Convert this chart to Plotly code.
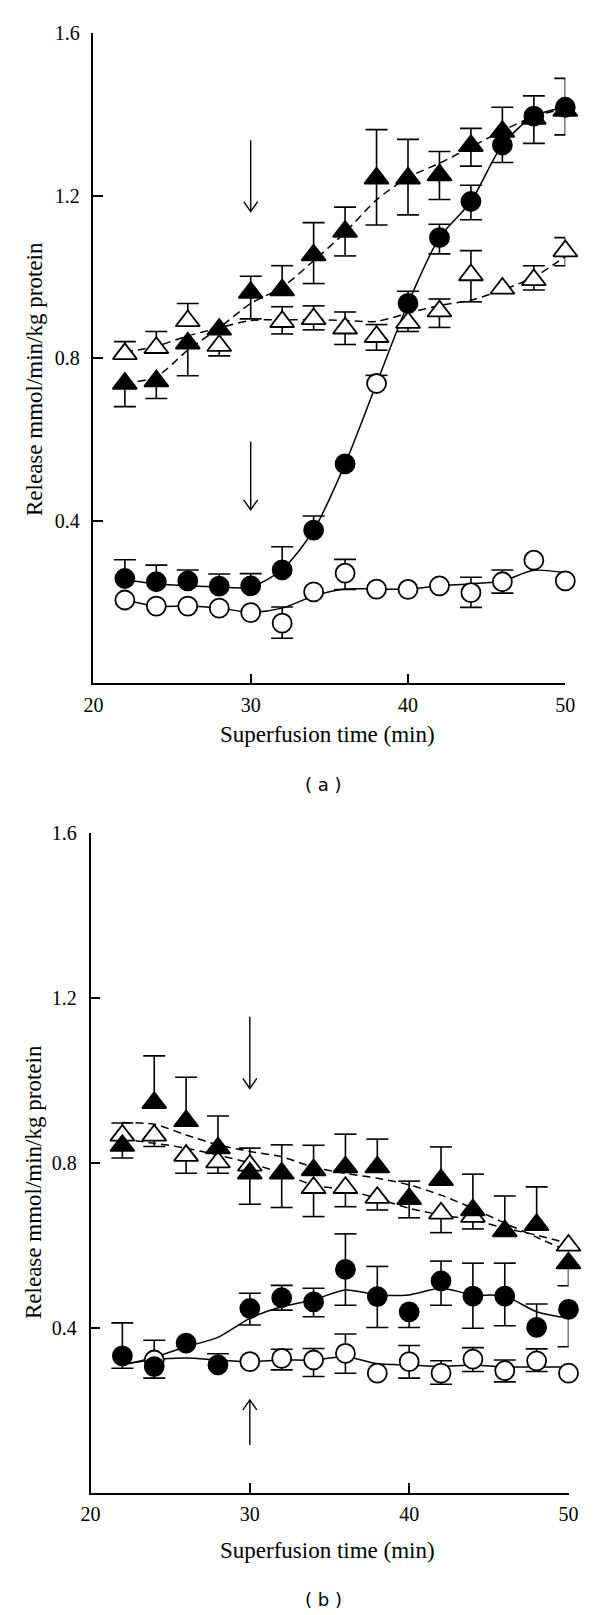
import plotly.graph_objects as go

# ---------------- data ----------------
T = [22, 24, 26, 28, 30, 32, 34, 36, 38, 40, 42, 44, 46, 48, 50]

# Panel (a)
a_fc = [0.258, 0.250, 0.252, 0.239, 0.240, 0.279, 0.377, 0.540, 0.738, 0.935, 1.097, 1.186, 1.325, 1.396, 1.418]
a_fc_up = [0.046, 0.041, 0.027, 0.030, 0.030, 0.057, 0.035, 0, 0.02, 0.03, 0.033, 0.04, 0, 0.05, 0.071]
a_fc_dn = [0, 0, 0, 0, 0, 0, 0, 0, 0, 0, 0.04, 0.045, 0.043, 0.067, 0.068]
a_fc_fill = ["black"] * 8 + ["white"] + ["black"] * 6
a_fc_curve = [0.255, 0.245, 0.240, 0.237, 0.237, 0.280, 0.377, 0.540, 0.738, 0.935, 1.097, 1.186, 1.325, 1.396, 1.418]

a_oc = [0.205, 0.190, 0.190, 0.185, 0.174, 0.148, 0.225, 0.271, 0.232, 0.231, 0.240, 0.223, 0.250, 0.303, 0.252]
a_oc_up = [0, 0, 0, 0, 0, 0.04, 0, 0.034, 0, 0, 0, 0.038, 0.029, 0, 0]
a_oc_dn = [0, 0, 0, 0, 0, 0.037, 0, 0.04, 0, 0, 0, 0.036, 0.028, 0, 0]
a_oc_curve = [0.205, 0.190, 0.190, 0.185, 0.175, 0.185, 0.215, 0.232, 0.232, 0.232, 0.240, 0.245, 0.252, 0.278, 0.272]

a_ft = [0.738, 0.744, 0.837, 0.871, 0.962, 0.968, 1.054, 1.112, 1.243, 1.243, 1.251, 1.323, 1.358, 1.390, 1.410]
a_ft_up = [0, 0, 0, 0, 0.04, 0.06, 0.08, 0.06, 0.12, 0.096, 0.058, 0.043, 0.06, 0, 0]
a_ft_dn = [0.057, 0.043, 0.08, 0, 0.065, 0, 0.07, 0.06, 0.115, 0.09, 0.06, 0.05, 0, 0, 0]
a_ft_curve = [0.738, 0.755, 0.820, 0.875, 0.935, 0.975, 1.040, 1.110, 1.190, 1.245, 1.280, 1.320, 1.360, 1.395, 1.415]

a_ot = [0.811, 0.826, 0.892, 0.831, None, 0.890, 0.897, 0.874, 0.853, 0.888, 0.916, 1.005, 0.972, 0.993, 1.064]
a_ot_up = [0.03, 0.04, 0.043, 0, 0, 0.037, 0.032, 0.04, 0.03, 0, 0.03, 0.06, 0, 0.035, 0.033]
a_ot_dn = [0, 0, 0, 0.025, 0, 0.03, 0.027, 0.04, 0.033, 0.022, 0.04, 0.066, 0, 0.025, 0.036]
a_ot_curve = [0.815, 0.830, 0.855, 0.875, 0.893, 0.895, 0.895, 0.893, 0.891, 0.911, 0.930, 0.943, 0.968, 1.000, 1.050]

# arrows (a): (time, tail, head)
a_arrows = [(30, 1.337, 1.161), (30, 0.595, 0.427)]

# Panel (b)
b_fc = [0.332, 0.306, 0.363, 0.310, 0.447, 0.473, 0.463, 0.542, 0.476, 0.439, 0.514, 0.477, 0.477, 0.401, 0.445]
b_fc_up = [0.08, 0, 0, 0.027, 0.037, 0.03, 0.033, 0.086, 0.073, 0, 0.048, 0.08, 0.08, 0.057, 0]
b_fc_dn = [0.03, 0.028, 0, 0, 0.04, 0.03, 0.036, 0.087, 0.075, 0.038, 0.059, 0.078, 0.072, 0, 0.091]
b_fc_fill = ["black"] * 15
b_fc_curve = [0.310, 0.329, 0.354, 0.377, 0.423, 0.451, 0.468, 0.492, 0.480, 0.480, 0.496, 0.480, 0.477, 0.439, 0.423]

b_oc = [None, 0.322, None, None, 0.318, 0.326, 0.322, 0.338, 0.290, 0.318, 0.290, 0.324, 0.296, 0.320, 0.290]
b_oc_up = [0, 0.048, 0, 0, 0, 0.022, 0.028, 0.047, 0, 0.039, 0.03, 0.028, 0.026, 0.029, 0]
b_oc_dn = [0, 0, 0, 0, 0, 0.028, 0.04, 0.048, 0, 0.04, 0.027, 0.03, 0.027, 0.026, 0]
b_oc_curve = [0.310, 0.323, 0.327, 0.322, 0.318, 0.322, 0.322, 0.330, 0.313, 0.310, 0.306, 0.310, 0.305, 0.305, 0.305]

b_ft = [0.842, 0.946, 0.902, 0.836, 0.775, 0.775, 0.783, 0.790, 0.790, 0.713, 0.759, 0.686, 0.635, 0.650, 0.557]
b_ft_up = [0, 0.114, 0.106, 0.078, 0, 0.069, 0.06, 0.08, 0.068, 0.043, 0.08, 0.087, 0.085, 0.092, 0]
b_ft_dn = [0.03, 0, 0, 0, 0.075, 0.083, 0, 0, 0, 0.046, 0, 0, 0, 0, 0.055]
b_ft_curve = [0.898, 0.894, 0.868, 0.844, 0.828, 0.815, 0.790, 0.775, 0.763, 0.747, 0.722, 0.690, 0.654, 0.620, 0.585]

b_ot = [0.867, 0.867, 0.818, 0.802, 0.794, None, 0.740, 0.740, 0.716, None, 0.678, 0.670, None, None, 0.600]
b_ot_up = [0.03, 0, 0, 0, 0.042, 0, 0, 0, 0, 0, 0, 0, 0, 0, 0]
b_ot_dn = [0, 0.027, 0.043, 0.027, 0, 0, 0.07, 0.046, 0.03, 0, 0.047, 0.03, 0, 0, 0]
b_ot_curve = [0.858, 0.848, 0.836, 0.819, 0.800, 0.775, 0.746, 0.735, 0.714, 0.690, 0.674, 0.662, 0.642, 0.625, 0.605]

b_arrows = [(30, 1.155, 0.981), (30, 0.116, 0.225)]

X_RANGE = [20, 50]
Y_RANGE = [0, 1.6]
X_TICKS = [20, 30, 40, 50]
Y_TICKS = [0.4, 0.8, 1.2, 1.6]
Y_TITLE = "Release mmol/min/kg protein"
X_TITLE = "Superfusion time (min)"

# ---------------- layout geometry (pixels) ----------------
W, H = 600, 1615
PANELS = {
    "a": dict(x0=93.4, x1=565.3, y0=33.3, y1=683.3, xa="x", ya="y",
              ytitle=(35, 379), xtitle=(327, 735), label=(323, 784)),
    "b": dict(x0=90.5, x1=568.5, y0=833.3, y1=1492.7, xa="x2", ya="y2",
              ytitle=(33, 1182), xtitle=(327, 1550), label=(323, 1599)),
}

SERIF = "Liberation Serif"
CAP_PX = 11      # half width of error-bar caps, px
HEAD_W = 7       # arrow head half width px
HEAD_L = 10      # arrow head length px

fig = go.Figure()


def err_lines(t, vals, up, dn, w):
    xs, ys = [], []
    for ti, v, u, d in zip(t, vals, up, dn):
        if v is None:
            continue
        for e in (u, -d):
            if e:
                xs += [ti, ti, None, ti - w, ti + w, None]
                ys += [v, v + e, None, v + e, v + e, None]
    return xs, ys


def add_panel(key, series, arrows):
    p = PANELS[key]
    xa, ya = p["xa"], p["ya"]
    px_per_x = (p["x1"] - p["x0"]) / (X_RANGE[1] - X_RANGE[0])
    px_per_y = (p["y1"] - p["y0"]) / (Y_RANGE[1] - Y_RANGE[0])
    w = CAP_PX / px_per_x

    # curves
    for s in series:
        fig.add_trace(go.Scatter(
            x=T, y=s["curve"], mode="lines", xaxis=xa, yaxis=ya,
            line=dict(color="black", width=1.5, shape="spline", smoothing=0.8,
                      dash=s["dash"]),
            hoverinfo="skip", showlegend=False))
    # error bars
    for s in series:
        ex, ey = err_lines(T, s["y"], s["up"], s["dn"], w)
        fig.add_trace(go.Scatter(
            x=ex, y=ey, mode="lines", xaxis=xa, yaxis=ya, cliponaxis=False,
            line=dict(color="black", width=1.6), hoverinfo="skip", showlegend=False))
    # markers
    for s in series:
        fig.add_trace(go.Scatter(
            x=T, y=s["y"], mode="markers", xaxis=xa, yaxis=ya, cliponaxis=False,
            marker=dict(symbol=s["symbol"], size=s["size"], color=s["fill"],
                        line=dict(color="black", width=1.8)),
            showlegend=False))
    # arrows
    hw = HEAD_W / px_per_x
    hl = HEAD_L / px_per_y
    for (t, tail, head) in arrows:
        sgn = 1 if tail > head else -1
        fig.add_trace(go.Scatter(
            x=[t, t, None, t - hw, t, t + hw],
            y=[tail, head, None, head + sgn * hl, head, head + sgn * hl],
            mode="lines", xaxis=xa, yaxis=ya,
            line=dict(color="black", width=1.4), hoverinfo="skip", showlegend=False))


add_panel("a", [
    dict(y=a_oc, up=a_oc_up, dn=a_oc_dn, curve=a_oc_curve, dash="solid", symbol="circle", size=19, fill="white"),
    dict(y=a_fc, up=a_fc_up, dn=a_fc_dn, curve=a_fc_curve, dash="solid", symbol="circle", size=19, fill=a_fc_fill),
    dict(y=a_ot, up=a_ot_up, dn=a_ot_dn, curve=a_ot_curve, dash="8px,5px", symbol="triangle-up", size=21, fill="white"),
    dict(y=a_ft, up=a_ft_up, dn=a_ft_dn, curve=a_ft_curve, dash="8px,5px", symbol="triangle-up", size=21, fill="black"),
], a_arrows)

add_panel("b", [
    dict(y=b_oc, up=b_oc_up, dn=b_oc_dn, curve=b_oc_curve, dash="solid", symbol="circle", size=19, fill="white"),
    dict(y=b_fc, up=b_fc_up, dn=b_fc_dn, curve=b_fc_curve, dash="solid", symbol="circle", size=19, fill=b_fc_fill),
    dict(y=b_ot, up=b_ot_up, dn=b_ot_dn, curve=b_ot_curve, dash="8px,5px", symbol="triangle-up", size=21, fill="white"),
    dict(y=b_ft, up=b_ft_up, dn=b_ft_dn, curve=b_ft_curve, dash="8px,5px", symbol="triangle-up", size=21, fill="black"),
], b_arrows)


def axis_common(standoff):
    return dict(showline=True, linecolor="black", linewidth=1.5, mirror=False,
                showgrid=False, zeroline=False, ticks="inside", ticklen=10,
                tickwidth=1.5, tickcolor="black", automargin=False,
                tickfont=dict(family=SERIF, size=20, color="black"),
                ticklabelstandoff=standoff)


layout_axes = {}
annotations = []
for key, p in PANELS.items():
    xname = "xaxis" if p["xa"] == "x" else "xaxis2"
    yname = "yaxis" if p["ya"] == "y" else "yaxis2"
    xd = [p["x0"] / W, p["x1"] / W]
    yd = [1 - p["y1"] / H, 1 - p["y0"] / H]
    xa = axis_common(3)
    xa.update(domain=xd, range=X_RANGE, tickvals=X_TICKS, anchor=p["ya"])
    ya = axis_common(8)
    ya.update(domain=yd, range=Y_RANGE, tickvals=Y_TICKS, anchor=p["xa"],
              tickformat=".1f")
    layout_axes[xname] = xa
    layout_axes[yname] = ya
    annotations.append(dict(text=Y_TITLE, x=p["ytitle"][0] / W, y=1 - p["ytitle"][1] / H,
                            xref="paper", yref="paper", showarrow=False, textangle=-90,
                            xanchor="center", yanchor="middle",
                            font=dict(family=SERIF, size=23, color="black")))
    annotations.append(dict(text=X_TITLE, x=p["xtitle"][0] / W, y=1 - p["xtitle"][1] / H,
                            xref="paper", yref="paper", showarrow=False,
                            xanchor="center", yanchor="middle",
                            font=dict(family=SERIF, size=23, color="black")))
    annotations.append(dict(text="( %s )" % key, x=p["label"][0] / W, y=1 - p["label"][1] / H,
                            xref="paper", yref="paper", showarrow=False, borderpad=0,
                            xanchor="center", yanchor="middle",
                            font=dict(family="DejaVu Sans", size=18, color="black")))

fig.update_layout(
    width=W, height=H,
    margin=dict(l=0, r=0, t=0, b=0),
    paper_bgcolor="white", plot_bgcolor="white",
    showlegend=False,
    annotations=annotations,
    **layout_axes,
)

fig.write_html("out.html", config={"displayModeBar": False},
               post_script="document.body.style.margin='0';")
